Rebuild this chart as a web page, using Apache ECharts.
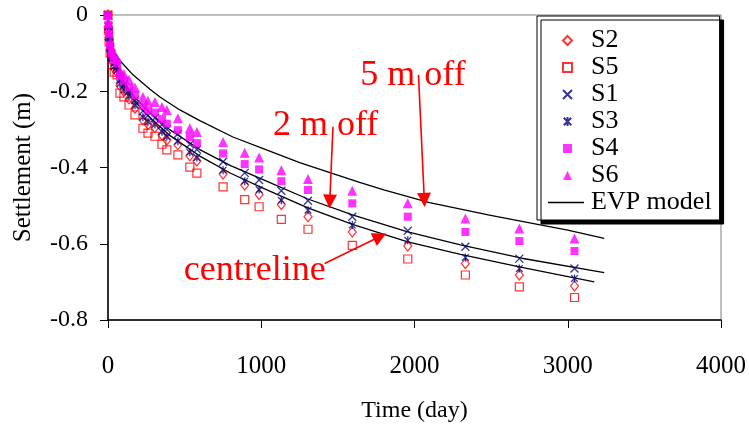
<!DOCTYPE html>
<html><head><meta charset="utf-8">
<script src="https://cdn.jsdelivr.net/npm/echarts@6/dist/echarts.min.js"></script>
<style>html,body{margin:0;padding:0;background:#fff}#c{width:749px;height:428px}</style>
</head><body><div id="c"></div>
<script>
// Measurement times (days)
const T = [0, 3, 7, 14, 25, 40, 59, 78, 104, 137, 176, 228, 261, 306, 352, 384, 456, 534, 580, 751, 892, 986, 1131, 1305, 1594, 1956, 2332, 2684, 3044];
const S2 = [0, -0.035, -0.065, -0.09, -0.12, -0.14, -0.15, -0.185, -0.20, -0.22, -0.245, -0.275, -0.287, -0.295, -0.315, -0.328, -0.340, -0.369, -0.383, -0.417, -0.446, -0.471, -0.497, -0.529, -0.569, -0.606, -0.652, -0.682, -0.711];
const S5 = [0, -0.04, -0.07, -0.10, -0.13, -0.15, -0.157, -0.205, -0.215, -0.236, -0.262, -0.297, -0.310, -0.318, -0.339, -0.354, -0.367, -0.399, -0.415, -0.451, -0.484, -0.503, -0.536, -0.562, -0.604, -0.640, -0.682, -0.713, -0.741];
const S1 = [0, -0.03, -0.055, -0.085, -0.11, -0.125, -0.135, -0.17, -0.183, -0.2, -0.223, -0.252, -0.263, -0.27, -0.288, -0.3, -0.312, -0.339, -0.353, -0.385, -0.414, -0.433, -0.461, -0.487, -0.529, -0.566, -0.608, -0.639, -0.665];
const S3 = [0, -0.03, -0.06, -0.09, -0.115, -0.135, -0.145, -0.18, -0.195, -0.213, -0.237, -0.268, -0.28, -0.287, -0.306, -0.319, -0.331, -0.36, -0.374, -0.407, -0.436, -0.458, -0.486, -0.512, -0.551, -0.591, -0.636, -0.665, -0.691];
const S4 = [0, -0.025, -0.05, -0.08, -0.10, -0.118, -0.127, -0.16, -0.172, -0.19, -0.21, -0.238, -0.25, -0.256, -0.273, -0.285, -0.302, -0.320, -0.336, -0.363, -0.391, -0.405, -0.436, -0.459, -0.494, -0.529, -0.569, -0.593, -0.619];
const S6 = [0, -0.02, -0.045, -0.07, -0.09, -0.105, -0.115, -0.145, -0.155, -0.17, -0.19, -0.215, -0.225, -0.228, -0.241, -0.249, -0.271, -0.297, -0.307, -0.333, -0.361, -0.374, -0.407, -0.430, -0.461, -0.494, -0.534, -0.560, -0.586];

// EVP model curves
const EVP5_T = [0, 10, 30, 83, 163, 274, 339, 469, 599, 815, 1034, 1251, 1468, 1642, 1800, 2098, 2489, 2684, 3000, 3238];
const EVP5_V = [0, -0.05, -0.09, -0.122, -0.157, -0.195, -0.215, -0.249, -0.277, -0.32, -0.354, -0.387, -0.416, -0.439, -0.459, -0.492, -0.525, -0.540, -0.564, -0.586];
const EVP2_T = [0, 10, 30, 80, 160, 270, 400, 599, 800, 1000, 1300, 1600, 1956, 2300, 2700, 3238];
const EVP2_V = [0, -0.07, -0.11, -0.16, -0.21, -0.255, -0.3, -0.353, -0.395, -0.43, -0.482, -0.525, -0.569, -0.603, -0.638, -0.676];
const EVPC_T = [0, 10, 30, 80, 160, 270, 400, 599, 800, 1000, 1300, 1600, 1956, 2300, 2700, 3173];
const EVPC_V = [0, -0.075, -0.115, -0.17, -0.22, -0.268, -0.315, -0.37, -0.415, -0.452, -0.505, -0.55, -0.595, -0.628, -0.662, -0.70];

// Annotations (data coordinates)
const annoText = ['5 m off', '2 m off', 'centreline'];
const annoPos = [[1990, -0.159], [1420, -0.291], [958, -0.669]];
const arrowFrom = [[2026, -0.157], [1468, -0.293], [1414, -0.652]];
const arrowTo = [[2064, -0.485], [1447, -0.489], [1775, -0.581]];

const xTicks = [0, 4000, 1000];
const yTicks = [-0.8, 0, 0.2];

const zip = (a, b) => a.map((t, i) => [t, b[i]]);
const FONT = '"Liberation Serif", "Times New Roman", serif';
const RED = '#FF0000', NAVY = '#000080', MAG = '#FF00FF';

function scat(name, vals, symbol, size, style) {
  return { name, type: 'scatter', data: zip(T, vals), symbol, symbolSize: size,
    symbolKeepAspect: true, itemStyle: style, emphasis: { disabled: true }, z: 3 };
}
function evp(tArr, vArr) {
  return { name: 'EVP model', type: 'line', data: zip(tArr, vArr), showSymbol: false, symbol: 'none',
    smooth: false, lineStyle: { color: '#000', width: 1.3 }, itemStyle: { color: '#000' }, z: 2,
    emphasis: { disabled: true } };
}
const legendText = { fontFamily: FONT, fontSize: 26, color: '#000', lineHeight: 27 };

const chart = echarts.init(document.getElementById('c'), null, { renderer: 'canvas' });
chart.setOption({
  animation: false,
  backgroundColor: '#fff',
  grid: { left: 108, right: 27, top: 15, bottom: 108, show: true, borderColor: '#808080', borderWidth: 1, backgroundColor: 'transparent' },
  xAxis: {
    type: 'value', min: xTicks[0], max: xTicks[1], interval: xTicks[2],
    name: 'Time (day)', nameLocation: 'middle', nameGap: 79,
    nameTextStyle: { fontFamily: FONT, fontSize: 24, color: '#000' },
    axisLine: { show: true, onZero: false, lineStyle: { color: '#000', width: 1.5 } },
    axisTick: { show: true, inside: false, length: 8, lineStyle: { color: '#000', width: 1 } },
    axisLabel: { fontFamily: FONT, fontSize: 25, color: '#000', margin: 34, formatter: v => String(v) },
    splitLine: { show: false }
  },
  yAxis: {
    type: 'value', min: yTicks[0], max: yTicks[1], interval: yTicks[2],
    name: 'Settlement (m)', nameLocation: 'middle', nameGap: 72, nameRotate: 90,
    nameTextStyle: { fontFamily: FONT, fontSize: 25, color: '#000' },
    axisLine: { show: true, onZero: false, lineStyle: { color: '#000', width: 1.5 } },
    axisTick: { show: true, inside: false, length: 8, lineStyle: { color: '#000', width: 1 } },
    axisLabel: { fontFamily: FONT, fontSize: 24, color: '#000', margin: 20,
      formatter: v => (Math.abs(v) < 1e-9 ? '0' : v.toFixed(1)) },
    splitLine: { show: false }
  },
  legend: [
    {
      orient: 'vertical', left: 537, top: 16,
      data: ['S2', 'S5', 'S1', 'S3', 'S4', 'S6',
        { name: 'EVP model', icon: 'rect', itemStyle: { color: 'rgba(0,0,0,0)', borderWidth: 0, opacity: 0 } }],
      itemWidth: 9, itemHeight: 9, itemGap: 0,
      padding: [11, 8, 4, 25],
      backgroundColor: '#fff', borderColor: '#000', borderWidth: 1,
      shadowColor: '#000', shadowBlur: 0, shadowOffsetX: 4, shadowOffsetY: 4,
      textStyle: Object.assign({ padding: [0, 0, 0, 14] }, legendText),
      selectedMode: false
    },
    {
      orient: 'vertical', left: 548, top: 189,
      data: [{ name: 'EVP model', icon: 'rect', itemStyle: { color: '#000', borderWidth: 0 } }],
      itemWidth: 36, itemHeight: 1.3, itemGap: 0, padding: 0,
      backgroundColor: 'rgba(0,0,0,0)', borderWidth: 0,
      textStyle: Object.assign({}, legendText, { color: 'rgba(0,0,0,0)' }),
      selectedMode: false
    }
  ],
  series: [
    scat('S2', S2, 'diamond', [8, 10], { color: 'rgba(0,0,0,0)', borderColor: RED, borderWidth: 1.2 }),
    scat('S5', S5, 'rect', 8, { color: 'rgba(0,0,0,0)', borderColor: RED, borderWidth: 1.2 }),
    scat('S1', S1, 'path://M0,0L10,10M10,0L0,10', 8, { color: 'rgba(0,0,0,0)', borderColor: NAVY, borderWidth: 1.3 }),
    scat('S3', S3, 'path://M0,0L10,10M10,0L0,10M5,-1L5,11', 8, { color: 'rgba(0,0,0,0)', borderColor: NAVY, borderWidth: 1.3 }),
    scat('S4', S4, 'rect', 8, { color: MAG }),
    scat('S6', S6, 'triangle', 10, { color: MAG }),
    evp(EVP5_T, EVP5_V),
    evp(EVP2_T, EVP2_V),
    evp(EVPC_T, EVPC_V),
    {
      name: 'annotations', type: 'line', data: [], silent: true, z: 5,
      markLine: {
        silent: true, symbol: ['none', 'triangle'], symbolSize: 14,
        label: { show: false }, lineStyle: { color: RED, width: 1.6, type: 'solid' },
        emphasis: { disabled: true },
        data: arrowFrom.map((f, i) => [{ coord: f }, { coord: arrowTo[i] }])
      },
      markPoint: {
        silent: true, symbol: 'circle', symbolSize: 0,
        data: annoText.map((t, i) => ({ coord: annoPos[i], value: t,
          label: { show: true, position: 'inside', formatter: t, fontFamily: FONT, fontSize: 36, color: RED } }))
      }
    }
  ]
});
</script></body></html>
